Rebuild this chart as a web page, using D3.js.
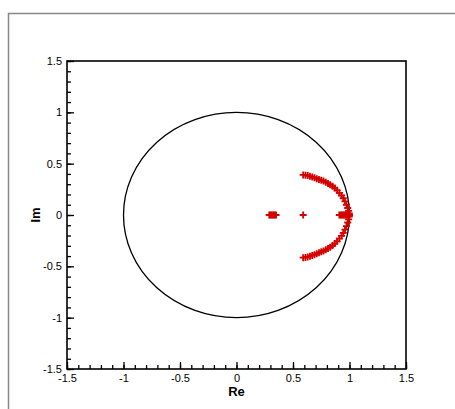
<!DOCTYPE html>
<html>
<head>
<meta charset="utf-8">
<script src="https://cdn.jsdelivr.net/npm/d3@7"></script>
<style>
  body { margin: 0; background: #fff; }
  svg { display: block; font-family: "Liberation Sans", Arial, sans-serif; }
</style>
</head>
<body>
<svg width="455" height="409"></svg>
<script>
// eigenvalues
const upperRe = [0.59, 0.61, 0.63, 0.65, 0.67, 0.69, 0.71, 0.73, 0.75, 0.77, 0.79, 0.81,
  0.83, 0.85, 0.87, 0.89, 0.91, 0.93, 0.945, 0.96, 0.973, 0.984, 0.992, 0.998];
const upperIm = [0.390, 0.388, 0.384, 0.378, 0.370, 0.362, 0.354, 0.346, 0.338, 0.330, 0.320, 0.308,
  0.295, 0.280, 0.262, 0.240, 0.216, 0.190, 0.163, 0.133, 0.100, 0.068, 0.040, 0.015];
const lowerRe = [0.59, 0.61, 0.63, 0.65, 0.67, 0.69, 0.71, 0.73, 0.75, 0.77, 0.79, 0.81,
  0.83, 0.85, 0.87, 0.89, 0.91, 0.93, 0.945, 0.96, 0.973, 0.984, 0.992, 0.998];
const lowerIm = [-0.416, -0.413, -0.408, -0.402, -0.394, -0.386, -0.377, -0.368, -0.359, -0.350, -0.339, -0.327,
  -0.313, -0.297, -0.278, -0.256, -0.231, -0.203, -0.175, -0.143, -0.108, -0.073, -0.043, -0.016];
const realRe = [0.29, 0.30, 0.31, 0.32, 0.33, 0.34, 0.35, 0.59,
  0.91, 0.92, 0.93, 0.94, 0.95, 0.96, 0.97, 0.98, 0.99, 1.0];

const majorTicks = [-1.5, -1, -0.5, 0, 0.5, 1, 1.5];
const tickLabels = ["-1.5", "-1", "-0.5", "0", "0.5", "1", "1.5"];

const points = [];
upperRe.forEach((r, i) => points.push({ re: r, im: upperIm[i] }));
lowerRe.forEach((r, i) => points.push({ re: r, im: lowerIm[i] }));
realRe.forEach(r => points.push({ re: r, im: 0 }));

const svg = d3.select("svg");

// outer frame (gray)
svg.append("path")
    .attr("d", "M8.5,409V13.5H455")
    .attr("fill", "none")
    .attr("stroke", "#888")
    .attr("stroke-width", 1.5);

const xScale = d3.scaleLinear().domain([-1.5, 1.5]).range([67, 406]);
const yScale = d3.scaleLinear().domain([-1.5, 1.5]).range([369, 61]);

const minor = d3.range(-15, 16).map(d => d / 10);

// minor ticks
svg.append("g")
    .attr("transform", "translate(0,369)")
    .call(d3.axisBottom(xScale).tickValues(minor).tickSize(-4).tickFormat(""))
    .call(g => g.select(".domain").remove());
svg.append("g")
    .attr("transform", "translate(67,0)")
    .call(d3.axisLeft(yScale).tickValues(minor).tickSize(-4).tickFormat(""))
    .call(g => g.select(".domain").remove());

// major ticks + labels
const xAxis = svg.append("g")
    .attr("transform", "translate(0,369)")
    .call(d3.axisBottom(xScale).tickValues(majorTicks).tickSize(-7).tickPadding(5)
        .tickFormat((_, i) => tickLabels[i]));
const yAxis = svg.append("g")
    .attr("transform", "translate(67,0)")
    .call(d3.axisLeft(yScale).tickValues(majorTicks).tickSize(-7).tickPadding(5)
        .tickFormat((_, i) => tickLabels[i]));

[xAxis, yAxis].forEach(g => {
    g.select(".domain").remove();
    g.selectAll("text").attr("font-size", 11).attr("font-family", "Liberation Sans, Arial, sans-serif").attr("fill", "#000");
});
svg.selectAll(".tick line").attr("stroke", "#000").attr("stroke-width", 1.3);

// plot frame
svg.append("rect")
    .attr("x", xScale(-1.5))
    .attr("y", yScale(1.5))
    .attr("width", xScale(1.5) - xScale(-1.5))
    .attr("height", yScale(-1.5) - yScale(1.5))
    .attr("fill", "none")
    .attr("stroke", "#000")
    .attr("stroke-width", 1.6);

// unit circle
svg.append("ellipse")
    .attr("cx", xScale(0))
    .attr("cy", yScale(0))
    .attr("rx", xScale(1) - xScale(0))
    .attr("ry", yScale(0) - yScale(1))
    .attr("fill", "none")
    .attr("stroke", "#000")
    .attr("stroke-width", 1.3);

// cross markers
svg.append("g").selectAll("path")
    .data(points)
    .enter()
    .append("path")
    .attr("transform", d => "translate(" + xScale(d.re) + "," + yScale(d.im) + ")")
    .attr("d", "M-3.5,0H3.5M0,-3.5V3.5")
    .attr("stroke", "#d40000")
    .attr("stroke-width", 1.8)
    .attr("fill", "none");

// axis titles
svg.append("text")
    .attr("x", xScale(0))
    .attr("y", 396)
    .attr("text-anchor", "middle")
    .attr("font-size", 13)
    .attr("font-weight", "bold")
    .text("Re");

svg.append("text")
    .attr("transform", "translate(40," + yScale(0) + ") rotate(-90)")
    .attr("text-anchor", "middle")
    .attr("font-size", 13)
    .attr("font-weight", "bold")
    .text("Im");
</script>
</body>
</html>
